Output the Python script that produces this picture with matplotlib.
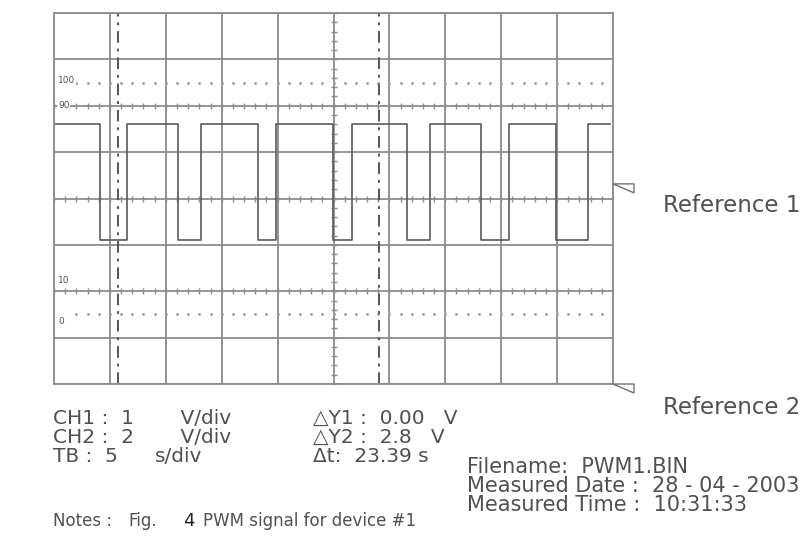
import matplotlib
matplotlib.use("Agg")
import matplotlib.pyplot as plt
import numpy as np
from matplotlib.patches import Polygon

plt.rcParams['font.family'] = ['DejaVu Sans']

# ---------------- data ----------------
# PWM trace: transition times (s) and the level held after each one
trace_times = [0.0, 4.11, 6.53, 11.09, 13.15, 18.25, 19.86, 24.96, 26.65,
               31.57, 33.63, 38.19, 40.70, 44.90, 47.76]
trace_levels = [82, 32, 82, 32, 82, 32, 82, 32, 82, 32, 82, 32, 82, 32, 82]
trace_end = 49.73

cursor_t1 = 5.72          # s
cursor_dt = 23.39         # s
ref_levels = [56.3, -30]  # reference marker levels (%)
level_labels = ["100", "90", "10", "0"]
level_label_y = [100.7, 89.9, 14.5, -3.0]
dotted_levels = [100, 0]

ch_labels = ["CH1 :  1", "CH2 :  2", "TB :  5"]
ch_units = ["    V/div", "    V/div", "s/div"]
cursor_texts = ["\u25b3Y1 :  0.00   V", "\u25b3Y2 :  2.8   V", "\u0394t:  23.39 s"]
file_texts = ["Filename:  PWM1.BIN", "Measured Date :  28 - 04 - 2003",
              "Measured Time :  10:31:33"]

W, H = 805, 546
fig = plt.figure(figsize=(W / 100, H / 100), dpi=100)
x0, x1, y0, y1 = 54, 613, 13, 384
ax = fig.add_axes([x0 / W, 1 - y1 / H, (x1 - x0) / W, (y1 - y0) / H])
ax.set_xlim(0, 50)
ax.set_ylim(-30, 130)

grid_c = '#8c8c8c'
sig_c = '#5a5a5a'
txt_c = '#505050'

ax.set_xticks(np.arange(0, 51, 5))
ax.set_yticks(np.arange(-30, 131, 20))
ax.tick_params(length=0, labelbottom=False, labelleft=False)
ax.grid(True, color=grid_c, lw=1.3)
for s in ax.spines.values():
    s.set_color(grid_c)
    s.set_linewidth(1.3)

# minor tick crosses on centre lines
tx = np.arange(0, 50.01, 1.0)
for yl in [50, 90, 10]:
    ax.plot(tx, [yl] * len(tx), ls='none', marker='|', ms=5, mew=1.0, color=grid_c)
ty = np.arange(-30, 130.01, 4.0)
for xl in [25]:
    ax.plot([xl] * len(ty), ty, ls='none', marker='_', ms=5, mew=1.0, color=grid_c)

# dotted 100 / 0 lines
for yl in dotted_levels:
    ax.plot(tx[2:], [yl] * len(tx[2:]), ls='none', marker='.', ms=2.2, color='#a0a0a0')

for lab, yy in zip(level_labels, level_label_y):
    ax.text(0.35, yy, lab, fontsize=6.5, color=txt_c, va='center', ha='left',
            bbox=dict(facecolor='white', edgecolor='none', pad=0.5))

# trace
xs = trace_times + [trace_end]
ys = trace_levels + [trace_levels[-1]]
ax.step(xs, ys, where='post', color=sig_c, lw=1.2)

# cursors
for t in [cursor_t1, cursor_t1 + cursor_dt]:
    ax.axvline(t, color='#555555', lw=1.4, ls=(0, (6, 3, 1.5, 3)))

# reference markers (outside axes, right side)
for lv in ref_levels:
    yp = 1 - ((130 - lv) / 160 * (y1 - y0) + y0) / H
    xa = x1 / W
    xb = (x1 + 21) / W
    poly = Polygon([[xa, yp], [xb, yp], [xb, yp - 9 / H]], closed=True,
                   fill=False, edgecolor='#707070', lw=1.0, transform=fig.transFigure)
    fig.add_artist(poly)

def ftext(x, y, s, size=14, ls=1.0, color=txt_c):
    # y is the baseline (pixel row) of the last line
    fig.text(x / W, 1 - y / H, s, fontsize=size, color=color, va='baseline', ha='left',
             linespacing=ls)

ftext(663, 212, "Reference 1", 16.5)
ftext(663, 414, "Reference 2", 16.5)

ftext(53, 462, "\n".join(ch_labels), 14.5, 1.0)
ftext(155, 462, "\n".join(ch_units), 14.5, 1.0)
ftext(313, 462, "\n".join(cursor_texts), 14.5, 1.0)
ftext(467, 511, "\n".join(file_texts), 15, 0.94)

ftext(53, 526, "Notes :", 12)
ftext(128, 526, "Fig.", 12)
ftext(183, 526, "4", 13, color='#222222')
ftext(203, 526, "PWM signal for device #1", 12)

fig.savefig("out.png", dpi=100, facecolor='white')
